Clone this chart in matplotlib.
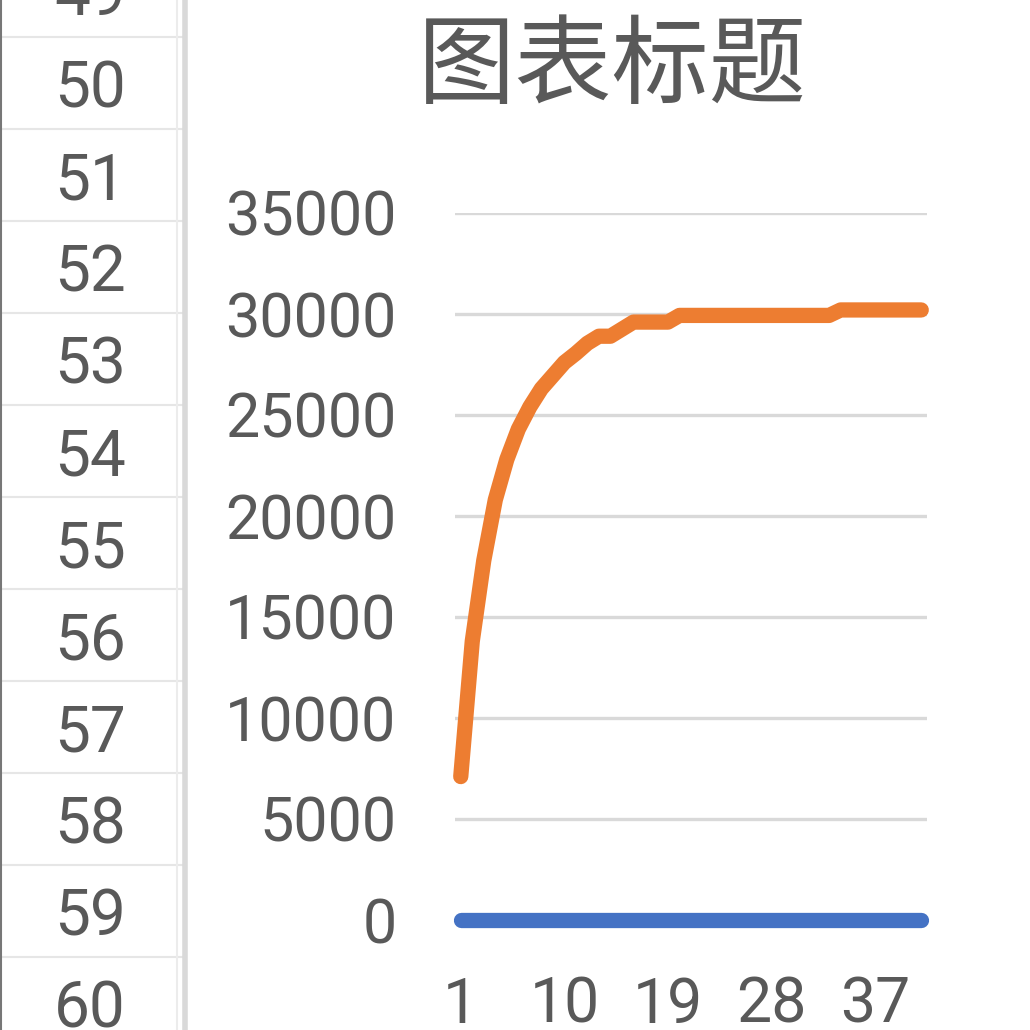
import matplotlib
matplotlib.use("Agg")
import matplotlib.pyplot as plt
from matplotlib.lines import Line2D

plt.rcParams['font.family'] = ['Roboto', 'Noto Sans CJK SC', 'DejaVu Sans']

# ---- data ----
categories = list(range(1, 42))
series_blue = [0] * 41
series_orange = [7100, 13800, 17800, 20800, 22800, 24300, 25400, 26300, 26950, 27600,
                 28050, 28550, 28900, 28900, 29250, 29600, 29600, 29600, 29600, 29930,
                 29930, 29930, 29930, 29930, 29930, 29930, 29930, 29930, 29930, 29930,
                 29930, 29930, 29930, 30200, 30200, 30200, 30200, 30200, 30200, 30200,
                 30200]
y_ticks = [0, 5000, 10000, 15000, 20000, 25000, 30000, 35000]
x_tick_labels = [1, 10, 19, 28, 37]
row_numbers = [49, 50, 51, 52, 53, 54, 55, 56, 57, 58, 59, 60]
title = "图表标题"

W = H = 1030
fig = plt.figure(figsize=(W / 100, H / 100), dpi=100)
fig.patch.set_facecolor("white")

def fx(px):
    return px / W

def fy(py):
    return 1 - py / H

text_col = "#595959"

# ---- spreadsheet row header background ----
row_h = 92
first_line = 37
for k, rn in enumerate(row_numbers):
    cy = first_line - row_h / 2 + k * row_h + 6
    fig.text(fx(90), fy(cy), str(rn), ha="center", va="center",
             fontsize=46, color=text_col, family=["Roboto", "DejaVu Sans"])
for k in range(11):
    ly = first_line + k * row_h
    fig.add_artist(Line2D([0, fx(183)], [fy(ly), fy(ly)], color="#e6e6e6", lw=1.5))
fig.add_artist(Line2D([fx(176.5), fx(176.5)], [0, 1], color="#ececec", lw=1.5))
fig.add_artist(Line2D([fx(184.5), fx(184.5)], [0, 1], color="#d9d9d9", lw=4))
fig.add_artist(Line2D([fx(0.5), fx(0.5)], [0, 1], color="#777777", lw=1.5))

# ---- chart ----
left, right, top, bottom = 455, 927, 213, 920
ax = fig.add_axes([fx(left), fy(bottom), fx(right - left), fy(top) - fy(bottom)])
ax.set_facecolor("none")
ax.set_xlim(0.5, 41.5)
ax.set_ylim(0, 35000)
for s in ax.spines.values():
    s.set_visible(False)

ax.set_yticks(y_ticks)
ax.set_yticklabels([str(v) for v in y_ticks])
ax.set_xticks(x_tick_labels)
ax.set_xticklabels([str(v) for v in x_tick_labels])
ax.tick_params(axis="y", length=0, pad=42, labelsize=44, labelcolor=text_col)
ax.tick_params(axis="x", length=0, pad=40, labelsize=45, labelcolor=text_col)
ax.yaxis.grid(True, color="#d9d9d9", lw=2.4)
ax.xaxis.grid(False)
ax.set_axisbelow(True)

ax.plot(categories, series_blue, color="#4472C4", lw=11, solid_capstyle="round",
        solid_joinstyle="round", clip_on=False, zorder=3)
ax.plot(categories, series_orange, color="#ED7D31", lw=11, solid_capstyle="round",
        solid_joinstyle="round", clip_on=False, zorder=4)

fig.text(fx(612), fy(68), title, ha="center", va="center", fontsize=70,
         color=text_col, family=["Noto Sans CJK SC", "DejaVu Sans"])

fig.savefig("out.png", dpi=100, facecolor="white")
